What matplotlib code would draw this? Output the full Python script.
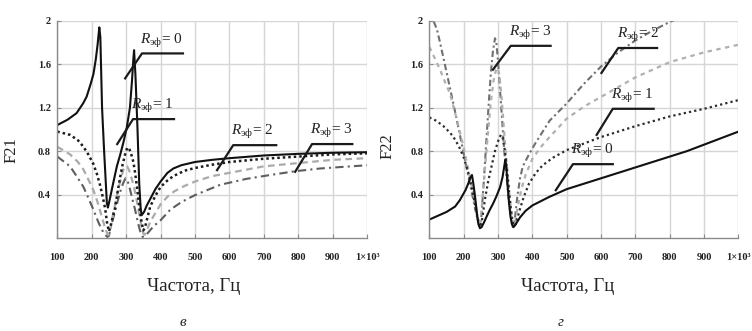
import matplotlib
matplotlib.use("Agg")
import matplotlib.pyplot as plt

plt.rcParams["font.family"] = ["Liberation Serif", "DejaVu Serif"]
plt.rcParams["mathtext.fontset"] = "custom"
plt.rcParams["mathtext.rm"] = "Liberation Serif"
plt.rcParams["mathtext.it"] = "Liberation Serif:italic"

# ---- F21 (panel "в") ----
f21_r0_f = [100, 130, 156, 175, 185, 197, 205, 212, 217, 222, 225, 230, 236, 244, 247, 252, 262, 273,
            283, 292, 302, 311, 317, 321, 323, 327, 333, 338, 342, 345, 352, 360, 370, 385, 400, 420, 437,
            460, 500, 550, 600, 700, 800, 900, 1000]
f21_r0_v = [1.04, 1.09, 1.15, 1.24, 1.30, 1.42, 1.51, 1.65, 1.78, 1.94, 1.85, 1.20, 0.80, 0.32, 0.28, 0.35,
            0.50, 0.66, 0.77, 0.88, 1.02, 1.20, 1.45, 1.65, 1.73, 1.50, 1.00, 0.50, 0.28, 0.21, 0.24, 0.30,
            0.36, 0.45, 0.52, 0.60, 0.64, 0.67, 0.70, 0.72, 0.735, 0.76, 0.775, 0.785, 0.79]

f21_r1_f = [100, 137, 160, 176, 190, 205, 215, 224, 232, 239, 245, 250, 254, 260, 268, 275, 282, 290, 297,
            303, 308, 314, 321, 326, 331, 336, 340, 345, 350, 355, 362, 370, 385, 400, 420, 437, 470, 500,
            550, 600, 700, 800, 900, 1000]
f21_r1_v = [0.98, 0.95, 0.90, 0.84, 0.77, 0.68, 0.59, 0.49, 0.38, 0.27, 0.13, 0.06, 0.10, 0.18, 0.28, 0.42,
            0.55, 0.68, 0.77, 0.83, 0.83, 0.78, 0.70, 0.60, 0.48, 0.35, 0.25, 0.14, 0.07, 0.10, 0.19, 0.29,
            0.39, 0.47, 0.53, 0.57, 0.62, 0.645, 0.675, 0.70, 0.73, 0.75, 0.77, 0.78]

f21_r2_f = [100, 137, 160, 176, 190, 205, 218, 229, 238, 245, 249, 254, 262, 270, 277, 285, 292, 298, 303,
            309, 316, 324, 331, 338, 345, 350, 354, 360, 370, 385, 400, 420, 440, 470, 500, 550, 600, 700,
            800, 900, 1000]
f21_r2_v = [0.84, 0.77, 0.70, 0.63, 0.54, 0.44, 0.32, 0.20, 0.10, 0.04, 0.03, 0.08, 0.22, 0.34, 0.45, 0.55,
            0.63, 0.66, 0.66, 0.62, 0.55, 0.45, 0.34, 0.22, 0.10, 0.04, 0.03, 0.07, 0.15, 0.23, 0.31, 0.38,
            0.43, 0.48, 0.52, 0.57, 0.60, 0.66, 0.69, 0.72, 0.735]

f21_r3_f = [100, 137, 156, 176, 190, 205, 220, 234, 245, 250, 258, 268, 277, 285, 292, 298, 304, 311, 318,
            326, 333, 340, 348, 355, 364, 380, 399, 428, 460, 500, 573, 650, 718, 791, 863, 930, 1000]
f21_r3_v = [0.75, 0.66, 0.57, 0.47, 0.37, 0.26, 0.14, 0.05, 0.01, 0.02, 0.13, 0.25, 0.36, 0.45, 0.51, 0.55,
            0.53, 0.45, 0.36, 0.26, 0.16, 0.07, 0.01, 0.02, 0.05, 0.11, 0.16, 0.26, 0.33, 0.395, 0.49, 0.545,
            0.58, 0.615, 0.64, 0.655, 0.67]

# ---- F22 (panel "г") ----
f22_r0_f = [100, 150, 175, 189, 205, 213, 220, 224, 228, 233, 238, 242, 247, 252, 260, 267, 276, 286, 296,
            306, 313, 318, 321, 324, 328, 332, 336, 340, 345, 352, 364, 380, 400, 450, 500, 550, 600, 650,
            700, 750, 800, 850, 900, 950, 1000]
f22_r0_v = [0.17, 0.24, 0.29, 0.35, 0.44, 0.50, 0.56, 0.58, 0.50, 0.38, 0.24, 0.14, 0.09, 0.10, 0.15, 0.20,
            0.26, 0.32, 0.39, 0.47, 0.56, 0.66, 0.72, 0.66, 0.47, 0.32, 0.20, 0.13, 0.10, 0.13, 0.19, 0.25,
            0.30, 0.38, 0.45, 0.50, 0.55, 0.60, 0.65, 0.70, 0.75, 0.80, 0.86, 0.92, 0.98]

f22_r1_f = [100, 120, 141, 160, 170, 185, 199, 212, 223, 232, 238, 244, 248, 253, 262, 271, 281, 291, 301,
            308, 313, 320, 327, 333, 339, 345, 350, 356, 365, 375, 390, 410, 430, 460, 500, 550, 600, 700,
            800, 900, 1000]
f22_r1_v = [1.11, 1.08, 1.03, 0.97, 0.93, 0.85, 0.75, 0.62, 0.47, 0.32, 0.22, 0.12, 0.10, 0.16, 0.36, 0.52,
            0.66, 0.80, 0.90, 0.95, 0.93, 0.80, 0.60, 0.40, 0.22, 0.11, 0.12, 0.18, 0.28, 0.38, 0.50, 0.60,
            0.67, 0.74, 0.81, 0.87, 0.93, 1.03, 1.12, 1.19, 1.27]

f22_r2_f = [100, 115, 131, 145, 160, 170, 180, 190, 200, 210, 218, 226, 233, 240, 246, 250, 257, 264, 272,
            280, 287, 294, 299, 304, 310, 316, 322, 328, 334, 340, 345, 350, 358, 368, 380, 400, 425, 450,
            500, 550, 600, 650, 700, 800, 900, 1000]
f22_r2_v = [1.76, 1.66, 1.55, 1.44, 1.33, 1.21, 1.09, 0.96, 0.83, 0.68, 0.56, 0.43, 0.32, 0.20, 0.12, 0.18,
            0.45, 0.72, 1.02, 1.28, 1.45, 1.55, 1.57, 1.50, 1.30, 1.05, 0.80, 0.57, 0.37, 0.20, 0.12, 0.15,
            0.30, 0.45, 0.58, 0.73, 0.84, 0.93, 1.10, 1.21, 1.30, 1.39, 1.48, 1.62, 1.71, 1.78]

f22_r3_f = [100, 112, 122, 131, 145, 160, 175, 190, 205, 218, 228, 238, 246, 251, 258, 265, 272, 279, 285,
            291, 295, 300, 306, 312, 318, 325, 332, 338, 343, 348, 356, 364, 372, 390, 410, 430, 450, 500,
            550, 600, 650, 700, 750, 800, 850]
f22_r3_v = [2.12, 2.00, 1.92, 1.80, 1.60, 1.38, 1.16, 0.93, 0.70, 0.50, 0.35, 0.20, 0.11, 0.18, 0.50, 0.85,
            1.20, 1.52, 1.72, 1.84, 1.80, 1.62, 1.35, 1.08, 0.80, 0.55, 0.33, 0.18, 0.10, 0.15, 0.38, 0.55,
            0.66, 0.77, 0.88, 0.98, 1.08, 1.24, 1.42, 1.58, 1.71, 1.82, 1.91, 1.99, 2.06]

x_ticks = [100, 200, 300, 400, 500, 600, 700, 800, 900, 1000]
x_tick_labels = ["100", "200", "300", "400", "500", "600", "700", "800", "900", "1×10³"]
y_ticks = [0.4, 0.8, 1.2, 1.6, 2.0]
y_tick_labels = ["0.4", "0.8", "1.2", "1.6", "2"]

# leader lines: (R, tip x, tip y, knee x, knee y, end x)
left_labels = [(0, 297, 1.47, 346, 1.70, 465),
               (1, 274, 0.865, 320, 1.095, 439),
               (2, 564, 0.625, 611, 0.855, 736),
               (3, 791, 0.61, 840, 0.865, 957)]
right_labels = [(3, 285, 1.55, 337, 1.77, 453),
                (2, 601, 1.52, 650, 1.75, 763),
                (1, 587, 0.95, 634, 1.19, 753),
                (0, 468, 0.44, 518, 0.68, 634)]

TEXT = "#222222"


def style_axes(ax):
    ax.set_xlim(100, 1000)
    ax.set_ylim(0, 2)
    ax.set_xticks(x_ticks)
    ax.set_xticklabels(x_tick_labels)
    ax.set_yticks(y_ticks)
    ax.set_yticklabels(y_tick_labels)
    ax.grid(True, color="#d6d6d6", lw=1.0)
    ax.set_axisbelow(True)
    for s in ("top", "right"):
        ax.spines[s].set_visible(False)
    for s in ("left", "bottom"):
        ax.spines[s].set_color("#8a8a8a")
        ax.spines[s].set_linewidth(1.0)
    ax.tick_params(axis="x", direction="in", length=3, color="#8a8a8a", pad=11,
                   labelsize=7.5, labelcolor=TEXT)
    ax.tick_params(axis="y", direction="in", length=3, color="#8a8a8a", pad=4.5,
                   labelsize=7.5, labelcolor=TEXT)
    for lab in ax.get_xticklabels() + ax.get_yticklabels():
        lab.set_fontweight("bold")


def add_leaders(ax, labels):
    for r, xt, yt, xk, yk, xe in labels:
        ax.plot([xt, xk, xe], [yt, yk, yk], color="#1a1a1a", lw=1.6, zorder=5)
        ax.text(xk - 5, yk + 0.09, r"$R_{\mathrm{эф}}$" + f"= {r}", fontsize=11,
                ha="left", va="baseline", color=TEXT, zorder=6)


fig = plt.figure(figsize=(7.52, 3.31), dpi=100)
ax1 = fig.add_axes([0.0762, 0.281, 0.412, 0.656])
ax2 = fig.add_axes([0.571, 0.281, 0.411, 0.656])

ax1.plot(f21_r3_f, f21_r3_v, color="#5e5e5e", lw=1.5, ls=(0, (4, 2, 1, 2)))
ax1.plot(f21_r2_f, f21_r2_v, color="#aaaaaa", lw=1.6, ls=(0, (3, 2)))
ax1.plot(f21_r1_f, f21_r1_v, color="#1c1c1c", lw=1.8, ls=(0, (1, 1.2)))
ax1.plot(f21_r0_f, f21_r0_v, color="#111111", lw=1.5)
style_axes(ax1)
add_leaders(ax1, left_labels)

ax2.plot(f22_r3_f, f22_r3_v, color="#707070", lw=1.5, ls=(0, (3, 1.5, 1, 1.5)))
ax2.plot(f22_r2_f, f22_r2_v, color="#b0b0b0", lw=1.6, ls=(0, (2, 2)))
ax2.plot(f22_r1_f, f22_r1_v, color="#2c2c2c", lw=1.6, ls=(0, (1, 1.4)))
ax2.plot(f22_r0_f, f22_r0_v, color="#111111", lw=1.5)
style_axes(ax2)
add_leaders(ax2, right_labels)

fig.text(0.015, 0.547, "F21", rotation=90, fontsize=12, ha="center", va="center", color=TEXT)
fig.text(0.515, 0.56, "F22", rotation=90, fontsize=12, ha="center", va="center", color=TEXT)
fig.text(0.258, 0.133, "Частота, Гц", fontsize=13.5, ha="center", va="center", color=TEXT)
fig.text(0.755, 0.133, "Частота, Гц", fontsize=13.5, ha="center", va="center", color=TEXT)
fig.text(0.243, 0.027, "в", fontsize=11, style="italic", ha="center", va="center", color=TEXT)
fig.text(0.746, 0.027, "г", fontsize=11, style="italic", ha="center", va="center", color=TEXT)

fig.savefig("out.png", dpi=100)
